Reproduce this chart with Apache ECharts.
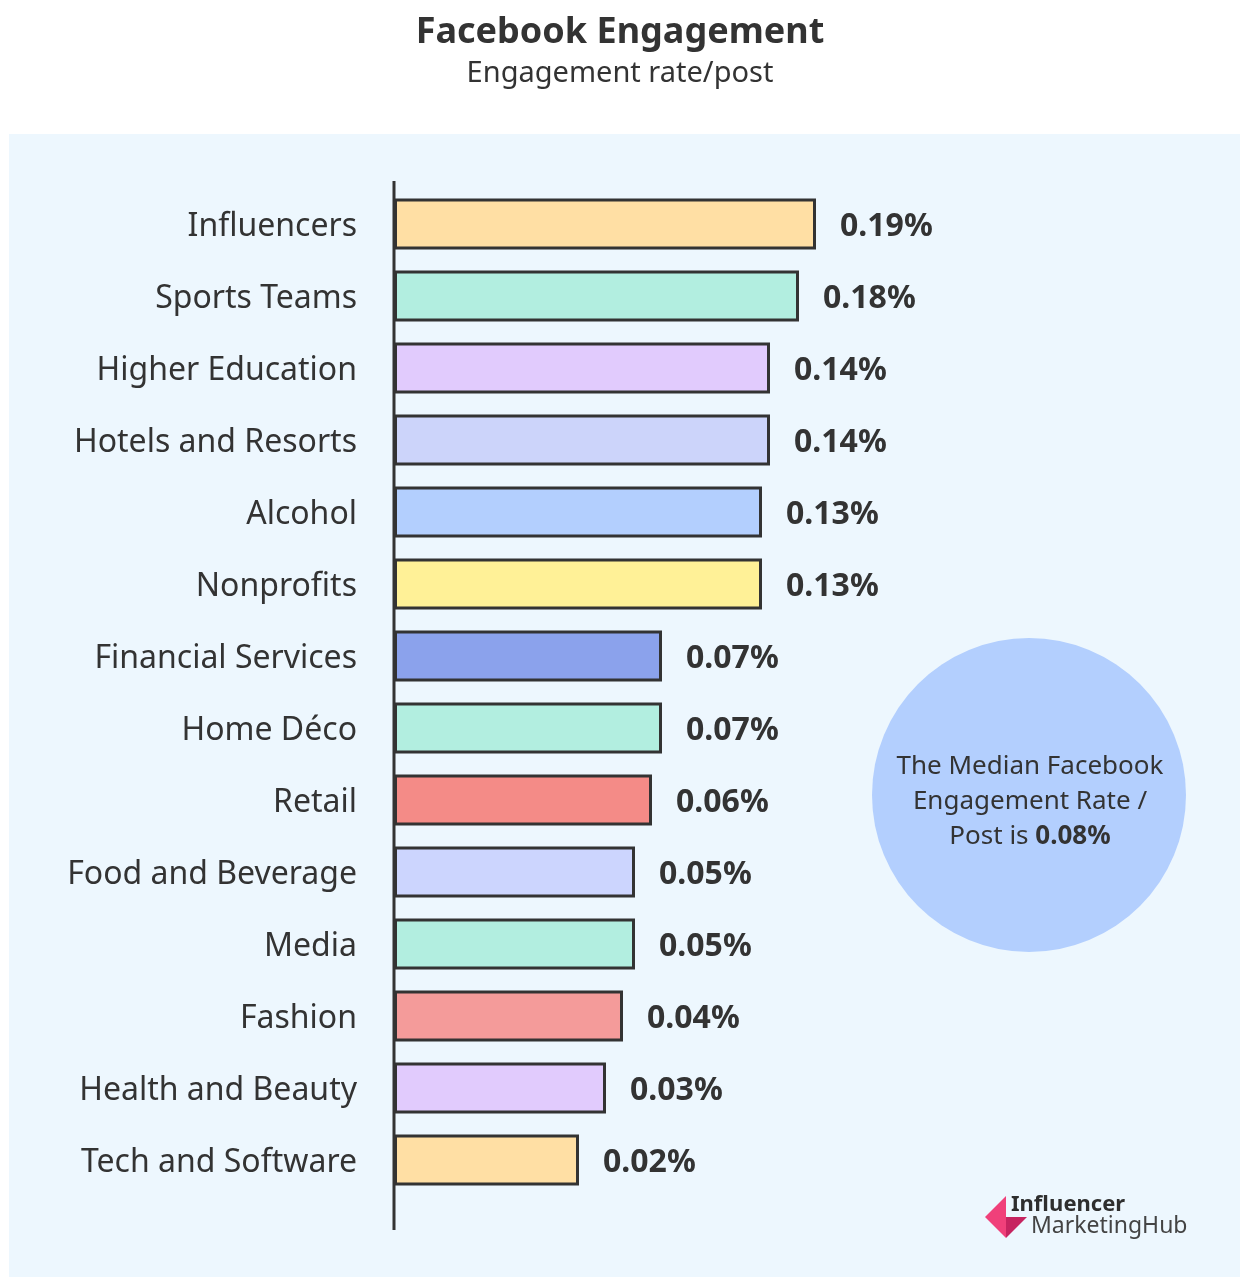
<!DOCTYPE html>
<html>
<head>
<meta charset="utf-8">
<title>Facebook Engagement</title>
<script src="https://cdn.jsdelivr.net/npm/echarts@6/dist/echarts.min.js"></script>
<style>
    html, body { margin: 0; padding: 0; background: #fff; }
    #chart { width: 1240px; height: 1277px; }
</style>
</head>
<body>
<div id="chart"></div>
<script>
// categories, top to bottom
const categories = [
    'Influencers', 'Sports Teams', 'Higher Education', 'Hotels and Resorts',
    'Alcohol', 'Nonprofits', 'Financial Services', 'Home Déco', 'Retail',
    'Food and Beverage', 'Media', 'Fashion', 'Health and Beauty', 'Tech and Software'
];
// engagement rate per post, % (the printed labels)
const rates = [0.19, 0.18, 0.14, 0.14, 0.13, 0.13, 0.07, 0.07, 0.06, 0.05, 0.05, 0.04, 0.03, 0.02];
// bar lengths as drawn in the picture (they are not proportional to the rates)
const barLength = [422, 405, 376, 376, 368, 368, 268, 268, 258, 241, 241, 229, 212, 185];
const barColors = [
    '#ffdfa4', '#b2eee0', '#e1cbfd', '#ccd4fa', '#b3cffe', '#fff197', '#8ba2ec',
    '#b2eee0', '#f48b87', '#ccd5fe', '#b2eee0', '#f49b9a', '#e1cbfd', '#ffdfa4'
];
const medianRate = 0.08;

const FONT = '"Noto Sans", "Open Sans", sans-serif';
const INK = '#333333';

let chart = echarts.init(document.getElementById('chart'));

chart.setOption({
    backgroundColor: '#ffffff',
    animation: false,
    title: {
        text: 'Facebook Engagement',
        subtext: 'Engagement rate/post',
        left: 'center',
        top: 10,
        itemGap: 8,
        textStyle: { color: INK, fontSize: 36, fontWeight: 'bold', fontFamily: FONT },
        subtextStyle: { color: INK, fontSize: 29, fontFamily: FONT }
    },
    graphic: [
        {
            type: 'rect',
            z: -10,
            shape: { x: 9, y: 134, width: 1231, height: 1143 },
            style: { fill: '#edf7fe' }
        },
        {
            type: 'line',
            z: 20,
            shape: { x1: 394, y1: 181, x2: 394, y2: 1230 },
            style: { stroke: INK, lineWidth: 3 }
        },
        {
            type: 'circle',
            shape: { cx: 1029, cy: 795, r: 157 },
            style: { fill: '#b3cffe' }
        },
        {
            type: 'text',
            x: 1030,
            y: 802,
            style: {
                text: 'The Median Facebook\nEngagement Rate /\nPost is {b|' + medianRate.toFixed(2) + '%}',
                align: 'center',
                verticalAlign: 'middle',
                fill: INK,
                fontSize: 26,
                lineHeight: 35,
                fontFamily: FONT,
                rich: { b: { fontWeight: 'bold', fontSize: 26, fill: INK, fontFamily: FONT } }
            }
        },
        // logo
        {
            type: 'polygon',
            shape: { points: [[985, 1217], [1006, 1196], [1006, 1238]] },
            style: { fill: '#f0407a' }
        },
        {
            type: 'polygon',
            shape: { points: [[1006, 1217], [1027, 1217], [1006, 1238]] },
            style: { fill: '#c62460' }
        },
        {
            type: 'text',
            x: 1011,
            y: 1205,
            style: {
                text: 'Influencer', fill: '#2e2e2e', fontSize: 22, fontWeight: 'bold',
                fontFamily: FONT, verticalAlign: 'middle'
            }
        },
        {
            type: 'text',
            x: 1031,
            y: 1226,
            style: {
                text: 'MarketingHub', fill: '#444444', fontSize: 23,
                fontFamily: FONT, verticalAlign: 'middle'
            }
        }
    ],
    grid: {
        left: 394,
        top: 188,
        width: 800,
        height: 1008
    },
    xAxis: {
        type: 'value',
        min: 0,
        max: 800,
        show: false
    },
    yAxis: {
        type: 'category',
        data: categories,
        inverse: true,
        axisLine: { show: false },
        axisTick: { show: false },
        axisLabel: {
            color: INK,
            fontSize: 32,
            fontFamily: FONT,
            margin: 37,
            formatter: v => '{c|' + v + '}',
            rich: {
                c: { color: INK, fontSize: 32, fontFamily: FONT, padding: [6, 0, 0, 0] }
            }
        }
    },
    series: [
        {
            type: 'bar',
            barWidth: 51,
            data: barLength.map((v, i) => ({
                value: v,
                itemStyle: { color: barColors[i] }
            })),
            itemStyle: {
                borderColor: INK,
                borderWidth: 3
            },
            label: {
                show: true,
                position: 'right',
                distance: 24,
                offset: [0, 3],
                color: INK,
                fontSize: 32,
                fontWeight: 'bold',
                fontFamily: FONT,
                formatter: p => rates[p.dataIndex].toFixed(2) + '%'
            }
        }
    ]
});
</script>
</body>
</html>
